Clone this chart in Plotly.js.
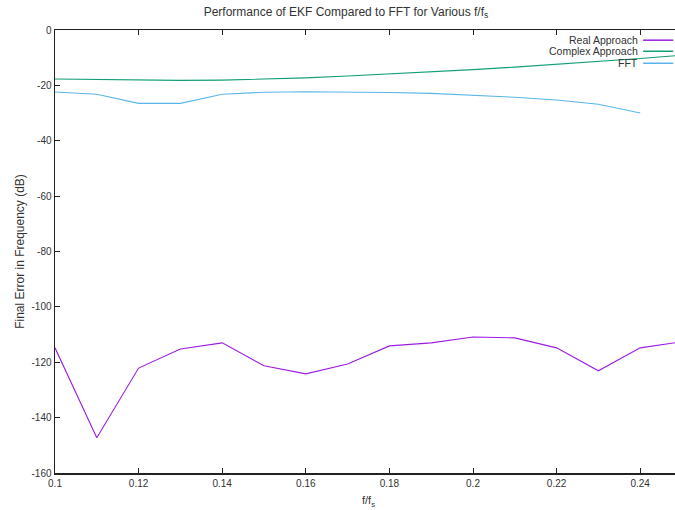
<!DOCTYPE html>
<html>
<head>
<meta charset="utf-8">
<script src="https://cdn.plot.ly/plotly-3.0.1.min.js"></script>
<style>
  html, body { margin: 0; padding: 0; overflow: hidden; background: #fff; }
  #chart { width: 685px; height: 510px; }
</style>
</head>
<body>
<div id="chart"></div>
<script>
// Normalised frequency f/fs
const freqRatio = [0.10, 0.11, 0.12, 0.13, 0.14, 0.15, 0.16, 0.17, 0.18, 0.19, 0.20, 0.21, 0.22, 0.23, 0.24, 0.25];

// Final frequency error (dB) for each estimator
const realApproach = [-114.8, -147.3, -122.1, -115.2, -113.0, -121.3, -124.2, -120.6, -114.1, -113.0, -110.9, -111.2, -114.8, -123.1, -114.8, -112.6];
const complexApproach = [-17.7, -17.9, -18.1, -18.2, -18.1, -17.8, -17.3, -16.6, -15.9, -15.1, -14.3, -13.4, -12.4, -11.4, -10.3, -9.1];
const fftFreq = [0.10, 0.11, 0.12, 0.13, 0.14, 0.15, 0.16, 0.17, 0.18, 0.19, 0.20, 0.21, 0.22, 0.23, 0.24];
const fftError = [-22.4, -23.2, -26.5, -26.5, -23.2, -22.5, -22.3, -22.4, -22.6, -22.9, -23.5, -24.3, -25.3, -26.8, -30.0];

const seriesNames = ['Real Approach', 'Complex Approach', 'FFT'];
const seriesColors = ['#9b1de0', '#129e77', '#5ab6ea'];

const xTicks = [0.1, 0.12, 0.14, 0.16, 0.18, 0.2, 0.22, 0.24];
const yTicks = [0, -20, -40, -60, -80, -100, -120, -140, -160];

const font = 'Liberation Sans, Arial, Helvetica, sans-serif';

const traces = [
  { x: freqRatio, y: realApproach, name: seriesNames[0] },
  { x: freqRatio, y: complexApproach, name: seriesNames[1] },
  { x: fftFreq, y: fftError, name: seriesNames[2] }
].map((t, i) => Object.assign(t, {
  type: 'scatter', mode: 'lines', showlegend: false,
  line: { color: seriesColors[i], width: 1.1 }
}));

// gnuplot-style key: right-aligned labels with the line sample to their right
const keyY = [0.977, 0.952, 0.925];
const annotations = seriesNames.map((n, i) => ({
  xref: 'paper', yref: 'paper', x: 0.933, y: keyY[i],
  xanchor: 'right', yanchor: 'middle', showarrow: false,
  text: n, font: { family: font, size: 10.5, color: '#333' }
}));
const shapes = seriesNames.map((n, i) => ({
  type: 'line', xref: 'paper', yref: 'paper',
  x0: 0.938, x1: 0.986, y0: keyY[i], y1: keyY[i],
  line: { color: seriesColors[i], width: 1.5 }
}));

const axisCommon = {
  showgrid: false, zeroline: false,
  showline: true, mirror: 'allticks', linecolor: '#222', linewidth: 1.5,
  ticks: 'inside', ticklen: 5, tickwidth: 1, tickcolor: '#222',
  tickfont: { family: font, size: 10, color: '#333' }
};

const layout = {
  width: 685, height: 510,
  margin: { l: 55, r: 3, t: 30, b: 37 },
  paper_bgcolor: '#fff', plot_bgcolor: '#fff',
  title: {
    text: 'Performance of EKF Compared to FFT for Various f/f<sub>s</sub>',
    font: { family: font, size: 12, color: '#333' },
    x: 0.505, xanchor: 'center', y: 0.977, yanchor: 'middle'
  },
  xaxis: Object.assign({}, axisCommon, {
    range: [0.1, 0.25], tickvals: xTicks, ticktext: xTicks.map(String),
    title: { text: 'f/f<sub>s</sub>', font: { family: font, size: 11, color: '#333' }, standoff: 9 }
  }),
  yaxis: Object.assign({}, axisCommon, {
    range: [-160, 0], tickvals: yTicks, ticktext: yTicks.map(String),
    title: { text: 'Final Error in Frequency (dB)', font: { family: font, size: 12, color: '#333' }, standoff: 4 }
  }),
  annotations: annotations,
  shapes: shapes
};

Plotly.newPlot('chart', traces, layout, { displayModeBar: false, staticPlot: true });
</script>
</body>
</html>
